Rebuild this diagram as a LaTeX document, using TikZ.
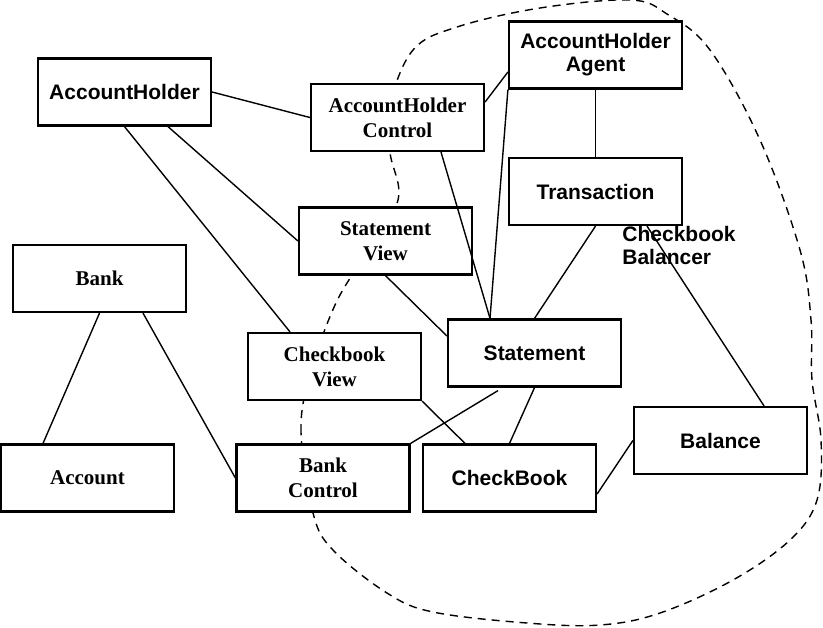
\documentclass[tikz,border=0pt]{standalone}
\usepackage{fontspec}
\setmainfont{Liberation Serif}
\setsansfont{Liberation Sans}
\usepackage{tikz}

\begin{document}
\begin{tikzpicture}[x = 0.5pt, y = -0.5pt,
        box/.style = {draw, line width = 1.1pt, fill = white, minimum width = 86.5pt, minimum height = 33.5pt, inner sep = 0pt, align = center, font = \fontsize{10.5}{12.5}\selectfont\bfseries},
        sansbox/.style = {box, font = \fontsize{10.5}{11.5}\selectfont\sffamily\bfseries},
        link/.style = {line width = 0.7pt}]
        \useasboundingbox (0, 0) rectangle (823, 627);
        \draw [line width = 0.7pt, dash pattern = on 4pt off 3pt] plot [smooth cycle, tension = 0.6] coordinates {(313, 513) (301, 432) (310, 375) (335, 305) (365, 255) (398, 200) (390, 152) (390, 105) (413, 50) (457, 27) (540, 8) (630, 0) (667, 14) (710, 50) (760, 140) (800, 250) (811, 320) (812, 380) (821, 440) (817, 500) (790, 540) (733, 580) (660, 613) (600, 625) (527, 623) (433, 612) (387, 593) (333, 550)};
        \node [sansbox] (ah) at (124.5, 92) {AccountHolder};
        \node [box] (ahc) at (397.5, 117.5) {AccountHolder\\Control};
        \node [sansbox] (aha) at (595.5, 55) {AccountHolder\\Agent};
        \node [sansbox] (tr) at (595.5, 191.5) {Transaction};
        \node [box] (sv) at (385.5, 241) {Statement\\View};
        \node [box] (bank) at (99.5, 278.5) {Bank};
        \node [box] (cv) at (334.5, 366.5) {Checkbook\\View};
        \node [sansbox] (st) at (534.5, 353) {Statement};
        \node [sansbox] (bal) at (720.5, 440.5) {Balance};
        \node [box] (acc) at (87.5, 478) {Account};
        \node [box] (bc) at (323, 478) {Bank\\Control};
        \node [sansbox] (cb) at (509.5, 478) {CheckBook};
        \node [anchor = west, align = left, inner sep = 0pt, font = \fontsize{10.5}{11.5}\selectfont\sffamily\bfseries] (cbb) at (622, 245) {Checkbook\\Balancer};
        \draw [link] (ah.east) -- (ahc.west);
        \draw [link] (ah.south) -- ([xshift = -22.25pt] cv.north);
        \draw [link] ([xshift = 21.75pt] ah.south) -- (sv.west);
        \draw [link] ([yshift = 7.75pt] ahc.east) -- ([yshift = -8.5pt] aha.west);
        \draw [link] ([xshift = 21.75pt] ahc.south) -- ([xshift = -22.25pt] st.north);
        \draw [link] (aha.south west) -- ([xshift = -22.25pt] st.north);
        \draw [link] (aha.south) -- (tr.north);
        \draw [link] (tr.south) -- (st.north);
        \draw [link] ([xshift = 25.75pt] tr.south) -- ([xshift = 21.75pt] bal.north);
        \draw [link] (sv.south) -- ([yshift = 8.5pt] st.west);
        \draw [link] (bank.south) -- ([xshift = -22.25pt] acc.north);
        \draw [link] ([xshift = 21.75pt] bank.south) -- (bc.west);
        \draw [link] (cv.south east) -- ([xshift = -22.25pt] cb.north);
        \draw [link] ([xshift = -18.25pt, yshift = -1.5pt] st.south) -- (bc.north east);
        \draw [link] (st.south) -- (cb.north);
        \draw [link] ([yshift = -8pt] cb.east) -- (bal.west);
\end{tikzpicture}
\end{document}
